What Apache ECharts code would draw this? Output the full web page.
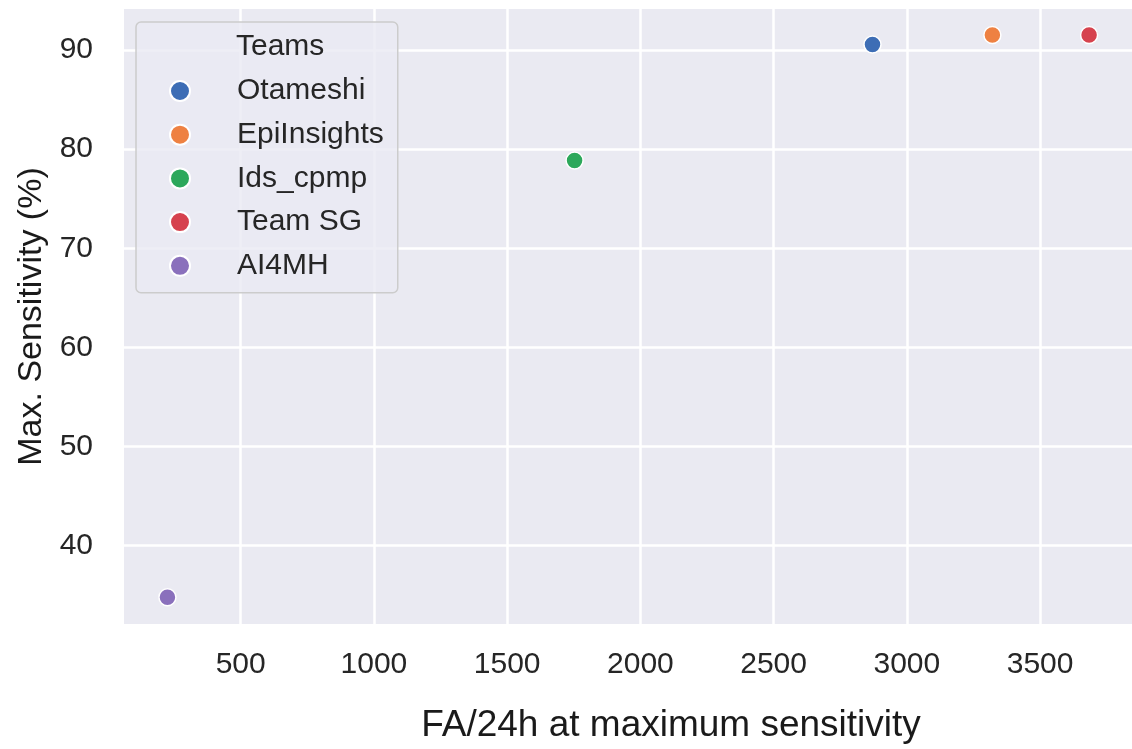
<!DOCTYPE html>
<html>
<head>
<meta charset="utf-8">
<script src="https://cdn.jsdelivr.net/npm/echarts@6/dist/echarts.min.js"></script>
<style>
  html, body { margin: 0; padding: 0; background: #ffffff; }
  #chart { width: 1132px; height: 749px; }
</style>
</head>
<body>
<div id="chart"></div>
<script>
// teams and their values
var teams = ['Otameshi', 'EpiInsights', 'Ids_cpmp', 'Team SG', 'AI4MH'];
var faPerDay = [2871, 3321, 1753, 3684, 225];       // FA/24h at max sensitivity
var maxSens = [90.55, 91.5, 78.85, 91.5, 34.8];     // Max. Sensitivity (%)
var teamColors = ['#3d6db5', '#ee8142', '#2ca85b', '#d6424e', '#8a70bc'];

// tick labels
var xTicks = [500, 1000, 1500, 2000, 2500, 3000, 3500];
var yTicks = [40, 50, 60, 70, 80, 90];

var font = '"Liberation Sans", Arial, Helvetica, sans-serif';
var chart = echarts.init(document.getElementById('chart'), null, { renderer: 'canvas' });

var series = [];
for (var i = 0; i < teams.length; i++) {
  series.push({
    name: teams[i],
    type: 'scatter',
    symbol: 'circle',
    symbolSize: 17,
    itemStyle: {
      color: teamColors[i],
      borderColor: '#ffffff',
      borderWidth: 1.5,
      opacity: 1
    },
    data: [[faPerDay[i], maxSens[i]]]
  });
}

var option = {
  backgroundColor: '#ffffff',
  animation: false,
  title: {
    text: 'Teams',
    left: 236,
    top: 32,
    padding: 0,
    textStyle: { fontFamily: font, fontSize: 30, fontWeight: 'normal', color: '#262626' }
  },
  legend: {
    data: teams,
    orient: 'vertical',
    left: 136,
    top: 22,
    padding: [54, 14, 12, 33],
    itemGap: 13.7,
    itemWidth: 20,
    itemHeight: 20,
    backgroundColor: 'rgba(234,234,242,0.8)',
    borderColor: '#cccccc',
    borderWidth: 1.5,
    borderRadius: 5,
    textStyle: {
      fontFamily: font,
      fontSize: 30,
      color: '#262626',
      padding: [0, 0, 0, 42]
    }
  },
  grid: {
    left: 124,
    right: 0,
    top: 9,
    bottom: 124,
    show: true,
    backgroundColor: '#eaeaf2',
    borderWidth: 0
  },
  xAxis: {
    type: 'value',
    min: 62,
    max: 3845,
    name: 'FA/24h at maximum sensitivity',
    nameLocation: 'middle',
    nameGap: 83,
    // the picture is cropped on the right, so the title sits right of the visible centre
    nameTextStyle: { fontFamily: font, fontSize: 37, color: '#1a1a1a', padding: [0, 0, 0, 86] },
    axisLine: { show: false },
    axisTick: { show: false, customValues: xTicks },
    axisLabel: {
      customValues: xTicks,
      margin: 26,
      fontFamily: font,
      fontSize: 30,
      color: '#262626',
      formatter: function (v) { return String(v); }
    },
    splitLine: { show: true, lineStyle: { color: '#ffffff', width: 2.5 } }
  },
  yAxis: {
    type: 'value',
    min: 32.1,
    max: 94.13,
    name: 'Max. Sensitivity (%)',
    nameLocation: 'middle',
    nameGap: 72,
    nameTextStyle: { fontFamily: font, fontSize: 34, color: '#1a1a1a' },
    axisLine: { show: false },
    axisTick: { show: false, customValues: yTicks },
    axisLabel: {
      customValues: yTicks,
      margin: 31,
      fontFamily: font,
      fontSize: 30,
      color: '#262626'
    },
    splitLine: { show: true, lineStyle: { color: '#ffffff', width: 2.5 } }
  },
  series: series
};

chart.setOption(option);
</script>
</body>
</html>
